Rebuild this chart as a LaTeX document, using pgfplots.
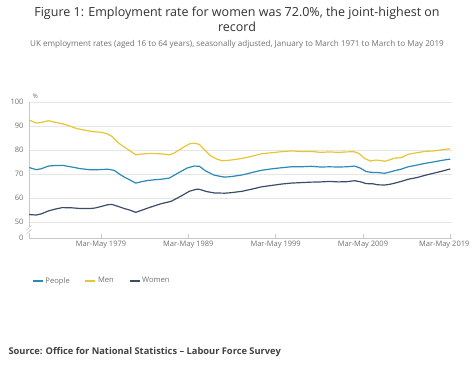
\documentclass[border=0pt]{standalone}
\usepackage{fontspec}
\setmainfont{Open Sans}
\usepackage{pgfplots}
\pgfplotsset{compat=1.18}
\definecolor{people}{HTML}{2A8AB5}
\definecolor{men}{HTML}{E8C534}
\definecolor{women}{HTML}{3B4D6B}
\definecolor{titlec}{HTML}{323132}
\definecolor{subc}{HTML}{707070}
\definecolor{tickc}{HTML}{707070}
\definecolor{gridc}{HTML}{E6E6E6}
\definecolor{axisc}{HTML}{C8C8C8}
\definecolor{srcc}{HTML}{414042}

\pgfplotstableread{
year val
1971.1 92.5
1971.9 91.2
1972.5 91.5
1973.3 92.2
1974.0 91.6
1974.8 91.0
1975.5 90.3
1976.5 89.0
1977.5 88.2
1978.5 87.6
1979.3 87.4
1980.0 86.8
1980.6 85.6
1981.3 83.0
1982.0 81.2
1982.6 79.8
1983.3 78.0
1984.0 78.3
1985.0 78.6
1986.2 78.4
1987.2 78.0
1987.8 78.9
1988.7 81.0
1989.5 82.6
1990.1 82.8
1990.6 82.3
1991.2 80.0
1991.9 77.5
1992.6 76.2
1993.2 75.5
1994.2 75.8
1995.5 76.5
1996.5 77.3
1997.7 78.4
1999.0 78.9
2000.0 79.3
2001.1 79.6
2002.2 79.4
2003.4 79.4
2004.5 79.0
2005.5 79.2
2006.5 79.0
2007.5 79.2
2008.3 79.3
2008.9 78.5
2009.5 76.5
2010.2 75.4
2010.8 75.8
2011.4 75.6
2011.8 75.3
2012.4 75.9
2012.9 76.6
2013.7 76.8
2014.5 78.2
2015.4 78.8
2016.4 79.4
2017.4 79.6
2018.4 80.1
2019.33 80.5
}\men

\pgfplotstableread{
year val
1971.1 53.1
1971.9 52.9
1972.5 53.4
1973.3 54.6
1974.0 55.3
1974.9 56.0
1976.0 55.9
1977.0 55.6
1978.0 55.6
1978.6 55.8
1979.3 56.4
1980.1 57.2
1980.6 57.3
1981.2 56.6
1982.0 55.6
1982.6 55.0
1983.3 54.0
1984.3 55.3
1985.0 56.2
1986.2 57.6
1987.35 58.6
1988.5 60.8
1989.45 62.8
1990.2 63.6
1990.6 63.6
1991.4 62.7
1992.3 62.1
1993.5 62.0
1994.2 62.2
1995.5 62.8
1996.5 63.6
1997.65 64.6
1999.0 65.3
2000.0 65.8
2001.1 66.2
2002.2 66.4
2003.4 66.6
2004.5 66.7
2005.5 66.9
2006.5 66.7
2007.5 66.8
2008.35 67.2
2009.0 66.8
2009.7 66.0
2010.5 65.9
2011.0 65.5
2011.8 65.4
2012.4 65.7
2013.0 66.2
2013.7 66.9
2014.5 67.8
2015.5 68.5
2016.4 69.4
2017.4 70.3
2018.4 71.2
2019.33 72.1
}\women

\pgfplotstableread{
year val
1971.1 72.7
1971.9 71.8
1972.5 72.2
1973.3 73.3
1974.0 73.5
1974.9 73.6
1976.0 72.9
1977.0 72.2
1978.0 71.8
1979.0 71.8
1980.1 72.0
1980.85 71.5
1981.5 69.8
1982.0 68.7
1982.6 67.6
1983.3 66.2
1984.0 66.8
1984.7 67.3
1985.5 67.6
1986.2 67.8
1987.15 68.3
1988.2 70.5
1989.2 72.5
1990.0 73.3
1990.6 73.2
1991.3 71.3
1992.3 69.5
1993.45 68.7
1994.2 68.9
1995.5 69.6
1996.5 70.5
1997.65 71.5
1999.0 72.2
2000.0 72.6
2001.1 73.0
2002.2 73.0
2003.4 73.2
2004.5 72.9
2005.5 73.0
2006.5 72.9
2007.5 73.0
2008.35 73.3
2009.0 72.5
2009.7 71.0
2010.5 70.6
2011.0 70.6
2011.8 70.3
2012.4 70.8
2013.0 71.4
2013.7 72.0
2014.5 73.0
2015.5 73.7
2016.4 74.4
2017.4 75.0
2018.4 75.7
2019.33 76.2
}\people

\begin{document}
\begin{tikzpicture}[x=1pt,y=1pt]
\path[use as bounding box] (0,0) rectangle (474,371);
\node[font=\fontsize{12.5}{15}\selectfont, text=titlec, align=center] at (237,351.5)
  {Figure 1: Employment rate for women was 72.0\%, the joint-highest on\\record};
\node[font=\fontsize{8.1}{9}\selectfont, text=subc] at (237,327)
  {UK employment rates (aged 16 to 64 years), seasonally adjusted, January to March 1971 to March to May 2019};
\node[font=\bfseries\fontsize{9.3}{10}\selectfont, text=srcc, anchor=west] at (5,19)
  {Source: Office for National Statistics -- Labour Force Survey};
\begin{axis}[
  at={(29pt,133pt)}, anchor=south west,
  width=423pt, height=136pt, scale only axis,
  xmin=1971.08, xmax=2019.53,
  ymin=43.33, ymax=100,
  axis x line*=bottom, axis y line*=left,
  axis line style={axisc, line width=0.6pt},
  xtick={1979.33,1989.33,1999.33,2009.33},
  xticklabels={Mar-May 1979,Mar-May 1989,Mar-May 1999,Mar-May 2009},
  extra x ticks={2019.33},
  extra x tick labels={Mar-May 2019},
  extra x tick style={xticklabel style={xshift=-6pt}},
  ytick={43.33,50,60,70,80,90,100},
  yticklabels={0,50,60,70,80,90,100},
  ymajorgrids, grid style={gridc, line width=0.6pt},
  tick style={axisc, line width=0.6pt},
  major tick length=4pt,
  ytick style={draw=none},
  xtick pos=bottom,
  ticklabel style={font=\fontsize{7.5}{9}\selectfont, text=tickc},
  /pgf/number format/assume math mode=true,
  yticklabel style={xshift=-2pt},
  clip=false,
  legend style={at={(0.0,-0.316)}, anchor=west, draw=none, fill=none,
    font=\fontsize{7.6}{9}\selectfont, text=tickc, legend columns=3,
    /tikz/every even column/.append style={column sep=13pt},
    legend cell align=left},
  legend image code/.code={\draw[#1, line width=1.3pt] (0pt,0pt) -- (10pt,0pt);},
  every axis plot/.append style={line width=1.2pt, line join=round},
]
\addplot[people] table[x=year,y=val] {\people};
\addlegendentry{People}
\addplot[men] table[x=year,y=val] {\men};
\addlegendentry{Men}
\addplot[women] table[x=year,y=val] {\women};
\addlegendentry{Women}
\draw[white, line width=2pt] (axis cs:1971.08,45.6) -- (axis cs:1971.08,48.0);
\draw[axisc, line width=0.6pt] ([xshift=-2.5pt]axis cs:1971.08,45.0) -- ([xshift=2.5pt]axis cs:1971.08,47.0);
\draw[axisc, line width=0.6pt] ([xshift=-2.5pt]axis cs:1971.08,46.6) -- ([xshift=2.5pt]axis cs:1971.08,48.6);
\node[font=\fontsize{6.5}{8}\selectfont, text=tickc, anchor=south west] at (axis cs:1971.08,100) {\%};
\end{axis}
\end{tikzpicture}
\end{document}
